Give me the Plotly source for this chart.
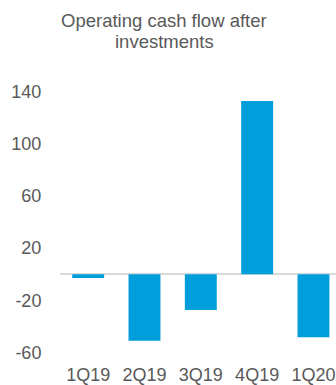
import plotly.graph_objects as go

quarters = ["1Q19", "2Q19", "3Q19", "4Q19", "1Q20"]
cash_flow = [-3, -51, -27.5, 133, -48.5]
y_ticks = [140, 100, 60, 20, -20, -60]

W, H = 336, 385
plot_top, plot_bottom = 85, 357
left = 59.5
px_per_unit = 1.3025
zero_px = 274.2
y_top = (zero_px - plot_top) / px_per_unit
y_bot = y_top - (plot_bottom - plot_top) / px_per_unit

grey = "#595959"
font = "Liberation Sans, Arial, sans-serif"

fig = go.Figure(go.Bar(
    x=quarters, y=cash_flow,
    marker=dict(color="#009FDB", line=dict(width=0)),
))

fig.update_layout(
    width=W, height=H,
    margin=dict(l=left, r=0, t=plot_top, b=H - plot_bottom, pad=0),
    paper_bgcolor="white", plot_bgcolor="white",
    bargap=0.433,
    showlegend=False,
    font=dict(family=font, size=18, color=grey),
    xaxis=dict(
        range=[-0.5, 4.4], showgrid=False, showline=False, zeroline=False,
        automargin=False,
        ticks="outside", ticklen=1, tickcolor="rgba(0,0,0,0)",
        tickfont=dict(size=18, color=grey),
    ),
    yaxis=dict(
        range=[y_bot, y_top], tickvals=y_ticks, ticktext=[str(v) for v in y_ticks],
        showgrid=False, showline=False, automargin=False,
        zeroline=True, zerolinecolor="#D9D9D9", zerolinewidth=2,
        ticks="outside", ticklen=14, tickcolor="rgba(0,0,0,0)",
        tickfont=dict(size=18, color=grey),
    ),
    annotations=[
        dict(text="Operating cash flow after", xref="paper", yref="paper",
             x=(164 - left) / (W - left), y=1 + (plot_top - 21) / (plot_bottom - plot_top),
             xanchor="center", yanchor="middle", showarrow=False,
             font=dict(family=font, size=18.5, color=grey)),
        dict(text="investments", xref="paper", yref="paper",
             x=(164 - left) / (W - left), y=1 + (plot_top - 42) / (plot_bottom - plot_top),
             xanchor="center", yanchor="middle", showarrow=False,
             font=dict(family=font, size=18.5, color=grey)),
    ],
)

fig.write_html(
    "out.html",
    config={"displayModeBar": False},
    post_script="document.body.style.margin='0';document.body.style.overflow='hidden';",
)
